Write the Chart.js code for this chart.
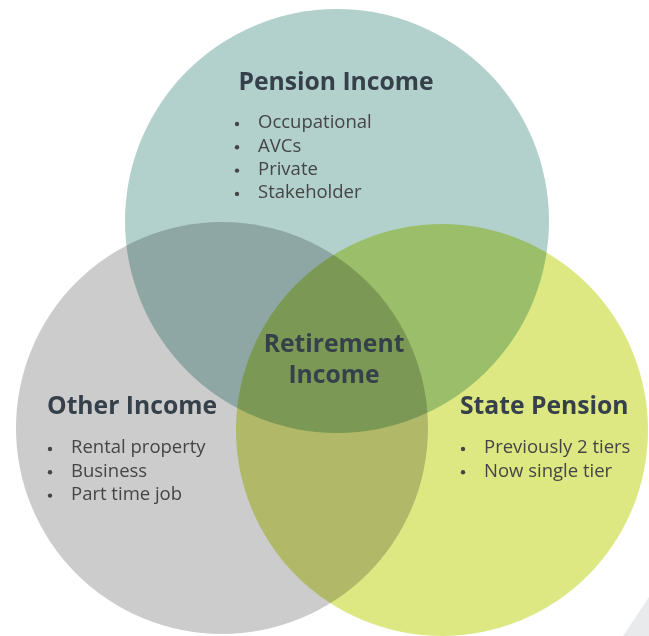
<!DOCTYPE html>
<html>
<head>
<meta charset="utf-8">
<script src="https://cdn.jsdelivr.net/npm/chart.js@4.4.1/dist/chart.umd.min.js"></script>
<style>
  body { margin: 0; background: #fff; }
  #wrap { position: relative; width: 649px; height: 636px; }
</style>
</head>
<body>
<div id="wrap"><canvas id="vennChart"></canvas></div>
<script>
// sets of the Venn diagram (centre in page units, radius in px)
const sets = ['Pension Income', 'State Pension', 'Other Income'];
const centerX = [337, 442, 222];
const centerY = [221, 430, 428];
const radius = [212, 206, 206];
const colors = ['#B2D1CD', '#DDE883', '#CCCCCC'];

// bullet items for each set
const pensionItems = ['Occupational', 'AVCs', 'Private', 'Stakeholder'];
const otherItems = ['Rental property', 'Business', 'Part time job'];
const stateItems = ['Previously 2 tiers', 'Now single tier'];
const centreLabel = ['Retirement', 'Income'];

// corner decoration
const cornerX = [623, 649];
const cornerY = [636, 597];

const titleFont = 'bold 24.7px "Open Sans", "Noto Sans", sans-serif';
const itemFont = '18.5px "Open Sans", "Noto Sans", sans-serif';
const titleColor = '#36404A';
const itemColor = '#454545';

const data = {
  datasets: [
    {
      type: 'bubble',
      label: 'Sets',
      data: sets.map((s, i) => ({ x: centerX[i], y: centerY[i], r: radius[i] })),
      backgroundColor: colors,
      borderWidth: 0,
      hoverRadius: 0,
      clip: false,
    },
    {
      type: 'line',
      label: 'Corner',
      data: cornerX.map((x, i) => ({ x: x, y: cornerY[i] })),
      borderWidth: 0,
      pointRadius: 0,
      backgroundColor: '#E9EAEC',
      fill: 'start',
    },
  ],
};

const labelPlugin = {
  id: 'vennLabels',
  beforeDraw(chart) {
    const ctx = chart.ctx;
    ctx.save();
    ctx.fillStyle = '#fff';
    ctx.fillRect(0, 0, chart.width, chart.height);
    ctx.restore();
  },
  beforeDatasetDraw(chart, args) {
    if (args.index === 0) chart.ctx.globalCompositeOperation = 'multiply';
  },
  afterDatasetDraw(chart, args) {
    if (args.index === 0) chart.ctx.globalCompositeOperation = 'source-over';
  },
  afterDatasetsDraw(chart) {
    const ctx = chart.ctx;
    const xs = chart.scales.x, ys = chart.scales.y;
    ctx.save();
    ctx.textBaseline = 'middle';

    function title(text, x, y, align) {
      ctx.font = titleFont;
      ctx.fillStyle = titleColor;
      ctx.textAlign = align;
      ctx.fillText(text, xs.getPixelForValue(x), ys.getPixelForValue(y));
    }
    function bullets(items, x, y) {
      ctx.font = itemFont;
      ctx.fillStyle = itemColor;
      ctx.textAlign = 'left';
      items.forEach((t, i) => {
        const py = ys.getPixelForValue(y + i * 23.3);
        const px = xs.getPixelForValue(x);
        ctx.beginPath();
        ctx.arc(px - 21, py + 1, 2.2, 0, Math.PI * 2);
        ctx.fill();
        ctx.fillText(t, px, py);
      });
    }

    title(sets[0], 336, 83, 'center');
    bullets(pensionItems, 258, 123);

    title(centreLabel[0], 334, 345, 'center');
    title(centreLabel[1], 334, 376, 'center');

    title(sets[2], 47, 407, 'left');
    bullets(otherItems, 71, 448);

    title(sets[1], 460, 407, 'left');
    bullets(stateItems, 484, 448);

    ctx.restore();
  },
};

const config = {
  data: data,
  options: {
    responsive: true,
    maintainAspectRatio: false,
    animation: false,
    events: [],
    layout: { padding: 0, autoPadding: false },
    plugins: {
      legend: { display: false },
      tooltip: { enabled: false },
    },
    scales: {
      x: { type: 'linear', min: 0, max: 649, display: false },
      y: { type: 'linear', min: 0, max: 636, reverse: true, display: false },
    },
  },
  plugins: [labelPlugin],
};

const vennChart = new Chart(document.getElementById('vennChart'), config);
</script>
</body>
</html>
